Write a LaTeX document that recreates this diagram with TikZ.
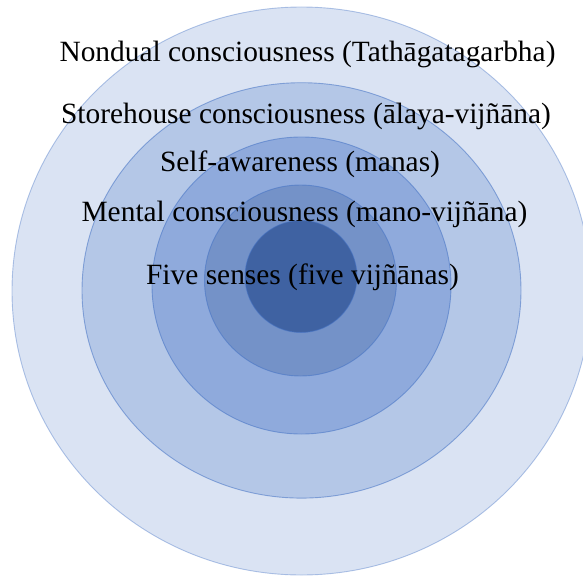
\documentclass[tikz,border=0pt]{standalone}
\usepackage{fontspec}
\setmainfont{Liberation Serif}
\definecolor{ring1}{HTML}{DAE3F3}
\definecolor{ring2}{HTML}{B4C7E7}
\definecolor{ring3}{HTML}{8FAADC}
\definecolor{ring4}{HTML}{7492C8}
\definecolor{ring5}{HTML}{3F62A2}
\definecolor{rimblue}{HTML}{4472C4}
\begin{document}
\begin{tikzpicture}[x=1pt,y=-1pt,
  ring/.style={draw=rimblue, draw opacity=0.55, line width=0.9pt},
  label/.style={anchor=base, inner sep=0pt, text=black,
    font=\fontsize{29.4}{35}\selectfont}]
  \useasboundingbox (0,0) rectangle (583,578);
  \clip (0,0) rectangle (583,578);
  % concentric layers, outermost first
  \draw[ring, fill=ring1, draw opacity=0.4] (301.5,291) ellipse [x radius=289.5pt, y radius=284pt];
  \draw[ring, fill=ring2] (301.5,290.4) ellipse [x radius=219.5pt, y radius=207.7pt];
  \draw[ring, fill=ring3] (301.5,285.5) ellipse [x radius=149.5pt, y radius=148.5pt];
  \draw[ring, fill=ring4] (300.5,280.5) ellipse [x radius=96pt, y radius=95.5pt];
  \draw[ring, fill=ring5] (301,276.5) ellipse [x radius=56pt, y radius=56pt];
  % layer captions
  \node[label] (nondual) at (307.5,62) {Nondual consciousness (Tathāgatagarbha)};
  \node[label] (store) at (306,123) {Storehouse consciousness (ālaya-vijñāna)};
  \node[label] (self) at (300,171) {Self-awareness (manas)};
  \node[label] (mental) at (304.5,221) {Mental consciousness (mano-vijñāna)};
  \node[label] (senses) at (302.5,284) {Five senses (five vijñānas)};
\end{tikzpicture}
\end{document}
